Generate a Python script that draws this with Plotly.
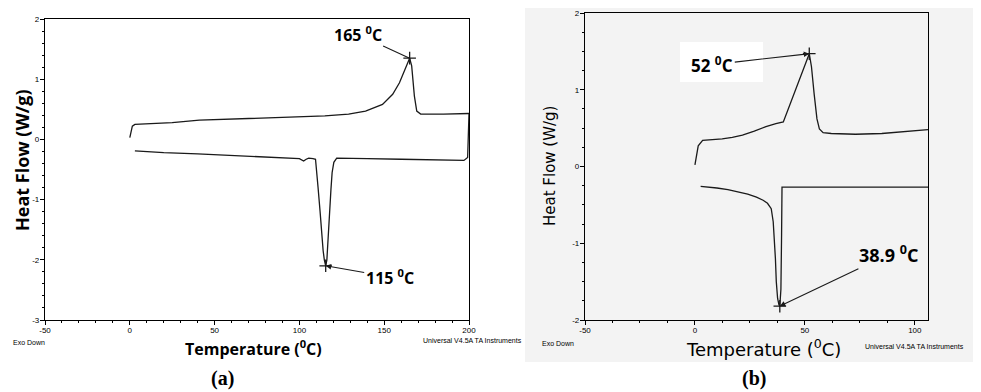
import plotly.graph_objects as go

# page body has an 8px margin: figure is sized to fit the 981x392 window
OFF = 8
W, H = 981 - OFF, 392 - OFF

# ---------------- data: panel (a) ----------------
a_heat_T = [0, 0.7, 1.5, 3, 10, 25, 41, 60, 80, 100, 115, 129, 139, 149, 155, 159, 162, 164, 165, 166.2, 167.8, 169.2, 171.5, 185, 200]
a_heat_HF = [0.03, 0.15, 0.22, 0.25, 0.26, 0.28, 0.32, 0.34, 0.36, 0.37, 0.39, 0.42, 0.47, 0.58, 0.75, 0.94, 1.14, 1.30, 1.35, 1.22, 0.72, 0.47, 0.42, 0.42, 0.43]
a_cool_T = [200, 199.8, 199.2, 197, 185, 160, 140, 124, 122, 120.3, 119.3, 118.6, 117.8, 117, 116.2, 115.5, 114.7, 114, 113, 112.2, 111, 110.3, 109.5, 108, 105.5, 104, 102.5, 100, 80, 60, 40, 20, 3]
a_cool_HF = [0.43, 0.1, -0.30, -0.35, -0.34, -0.33, -0.32, -0.31, -0.31, -0.38, -0.55, -0.83, -1.3, -1.7, -2.0, -2.1, -2.0, -1.85, -1.56, -1.2, -0.8, -0.5, -0.33, -0.32, -0.31, -0.33, -0.36, -0.32, -0.29, -0.27, -0.24, -0.22, -0.19]
a_peaks_T = [165, 115.5]
a_peaks_HF = [1.35, -2.1]
a_peak_labels = ["165 <sup>0</sup>C", "115 <sup>0</sup>C"]
a_xticks = [-50, 0, 50, 100, 150, 200]
a_xticktext = ["-50", "0", "50", "100", "150", "200"]
a_yticks = [-3, -2, -1, 0, 1, 2]
a_yticktext = ["-3", "-2", "-1", "0", "1", "2"]

# ---------------- data: panel (b) ----------------
b_heat_T = [0, 0.6, 1.5, 3.5, 8, 12.4, 17, 21.6, 27, 32.3, 36.8, 39.6, 40.2, 52, 53, 54.2, 55.5, 56.6, 58.3, 62, 73, 85, 95, 106]
b_heat_HF = [0.02, 0.15, 0.27, 0.34, 0.35, 0.36, 0.38, 0.41, 0.46, 0.52, 0.56, 0.57, 0.58, 1.47, 1.3, 0.95, 0.62, 0.49, 0.44, 0.43, 0.42, 0.43, 0.45, 0.48]
b_cool_T = [106, 80, 60, 45, 39.6, 39.4, 39.1, 38.6, 38.2, 37.6, 37.0, 36.6, 36.2, 35.6, 34.7, 33, 31, 28, 24, 20, 15, 10, 6, 2.6]
b_cool_HF = [-0.27, -0.27, -0.27, -0.27, -0.27, -0.9, -1.6, -1.82, -1.8, -1.72, -1.5, -1.2, -0.94, -0.72, -0.55, -0.48, -0.44, -0.40, -0.36, -0.33, -0.30, -0.28, -0.27, -0.26]
b_peaks_T = [52, 38.6]
b_peaks_HF = [1.47, -1.82]
b_peak_labels = ["52 <sup>0</sup>C", "38.9 <sup>0</sup>C"]
b_xticks = [-50, 0, 50, 100]
b_xticktext = ["-50", "0", "50", "100"]
b_yticks = [-2, -1, 0, 1, 2]
b_yticktext = ["-2", "-1", "0", "1", "2"]


def px(x):
    return (x - OFF) / W


def py(y):
    return 1 - (y - OFF) / H


LINE = dict(color="#1a1a1a", width=1.3)
fig = go.Figure()
fig.add_trace(go.Scatter(x=a_heat_T, y=a_heat_HF, mode="lines", line=LINE, xaxis="x", yaxis="y"))
fig.add_trace(go.Scatter(x=a_cool_T, y=a_cool_HF, mode="lines", line=LINE, xaxis="x", yaxis="y"))
fig.add_trace(go.Scatter(x=a_peaks_T, y=a_peaks_HF, mode="markers", xaxis="x", yaxis="y",
                         marker=dict(symbol="cross-thin", size=9, line=dict(width=1.3, color="#1a1a1a"))))
fig.add_trace(go.Scatter(x=b_heat_T, y=b_heat_HF, mode="lines", line=LINE, xaxis="x2", yaxis="y2"))
fig.add_trace(go.Scatter(x=b_cool_T, y=b_cool_HF, mode="lines", line=LINE, xaxis="x2", yaxis="y2"))
fig.add_trace(go.Scatter(x=b_peaks_T, y=b_peaks_HF, mode="markers", xaxis="x2", yaxis="y2",
                         marker=dict(symbol="cross-thin", size=9, line=dict(width=1.3, color="#1a1a1a"))))

tickfont = dict(family="Liberation Sans, Arial", size=8, color="black")
axis_common = dict(showline=True, mirror=True, linecolor="black", linewidth=1.3,
                   ticks="outside", ticklen=4, tickcolor="black", tickwidth=1,
                   showgrid=False, zeroline=False, tickfont=tickfont, tickmode="array",
                   automargin=False)

fig.update_layout(
    template="none",
    width=W, height=H, margin=dict(l=0, r=0, t=0, b=0),
    paper_bgcolor="white", plot_bgcolor="rgba(0,0,0,0)", showlegend=False,
    xaxis=dict(domain=[px(45), px(469)], range=[-50, 200], anchor="y",
               tickvals=a_xticks, ticktext=a_xticktext, ticklabelstandoff=-2,
               minor=dict(dtick=10, ticks="outside", ticklen=2, tickcolor="black"), **axis_common),
    yaxis=dict(domain=[py(320), py(19)], range=[-3, 2], anchor="x",
               tickvals=a_yticks, ticktext=a_yticktext, ticklabelstandoff=-1,
               minor=dict(dtick=0.2, ticks="outside", ticklen=2, tickcolor="black"), **axis_common),
    xaxis2=dict(domain=[px(585), px(928)], range=[-50, 106], anchor="y2",
                tickvals=b_xticks, ticktext=b_xticktext, ticklabelstandoff=-2,
                minor=dict(dtick=12.5, ticks="outside", ticklen=2, tickcolor="black"), **axis_common),
    yaxis2=dict(domain=[py(320), py(13)], range=[-2, 2], anchor="x2",
                tickvals=b_yticks, ticktext=b_yticktext, ticklabelstandoff=-1,
                minor=dict(dtick=0.25, ticks="outside", ticklen=2, tickcolor="black"), **axis_common),
)

# scanned-page background of panel (b) and white label box
fig.add_shape(type="rect", xref="paper", yref="paper", x0=px(525), x1=1, y0=py(362), y1=py(3),
              fillcolor="#f3f3f3", line=dict(width=0), layer="below")
fig.add_shape(type="rect", xref="paper", yref="paper", x0=px(680), x1=px(763), y0=py(82), y1=py(42),
              fillcolor="white", line=dict(width=0), layer="below")

lab_font = dict(family="Open Sans", size=16, color="black")
# peak annotations with arrows
fig.add_annotation(x=a_peaks_T[0], y=a_peaks_HF[0], xref="x", yref="y", text="<b>" + a_peak_labels[0] + "</b>",
                   ax=-52, ay=-24, showarrow=True, arrowhead=0, arrowwidth=1.1, arrowcolor="#1a1a1a",
                   font=lab_font)
fig.add_annotation(x=a_peaks_T[1], y=a_peaks_HF[1], xref="x", yref="y", text="<b>" + a_peak_labels[1] + "</b>",
                   ax=64, ay=11, showarrow=True, arrowhead=2, arrowsize=1, arrowwidth=1.1, arrowcolor="#1a1a1a",
                   font=lab_font)
fig.add_annotation(x=b_peaks_T[0], y=b_peaks_HF[0], xref="x2", yref="y2", text="<b>" + b_peak_labels[0] + "</b>",
                   ax=-97, ay=11, showarrow=True, arrowhead=2, arrowsize=1, arrowwidth=1.1, arrowcolor="#1a1a1a",
                   font=dict(family="Open Sans", size=17, color="black"))
fig.add_annotation(x=b_peaks_T[1], y=b_peaks_HF[1], xref="x2", yref="y2", text="<b>" + b_peak_labels[1] + "</b>",
                   ax=109, ay=-52, showarrow=True, arrowhead=2, arrowsize=1, arrowwidth=1.1, arrowcolor="#1a1a1a",
                   font=dict(family="Open Sans", size=18, color="black"))


def txt(x, y, text, font, angle=0, xanchor="center"):
    fig.add_annotation(x=px(x), y=py(y), xref="paper", yref="paper", text=text, showarrow=False,
                       font=font, textangle=angle, xanchor=xanchor, yanchor="middle")


# axis titles
txt(253, 348, "<b>Temperature (<sup>0</sup>C)</b>", dict(family="Open Sans", size=16, color="black"))
txt(22, 160, "<b>Heat Flow (W/g)</b>", dict(family="Open Sans", size=18, color="black"), angle=-90)
txt(763, 348, "Temperature (<sup>0</sup>C)", dict(family="DejaVu Sans", size=18, color="black"))
txt(550, 166, "Heat Flow (W/g)", dict(family="DejaVu Sans", size=15, color="black"), angle=-90)

small = dict(family="Liberation Sans, Arial", size=7, color="black")
txt(11, 342, "Exo Down", small, xanchor="left")
txt(421, 340, "Universal V4.5A TA Instruments", small, xanchor="left")
txt(540, 343, "Exo Down", small, xanchor="left")
txt(863, 346, "Universal V4.5A TA Instruments", small, xanchor="left")

panel = dict(family="Liberation Serif", size=20, color="black")
txt(222, 378, "<b>(a)</b>", panel)
txt(754, 378, "<b>(b)</b>", panel)

fig.write_html("out.html")
